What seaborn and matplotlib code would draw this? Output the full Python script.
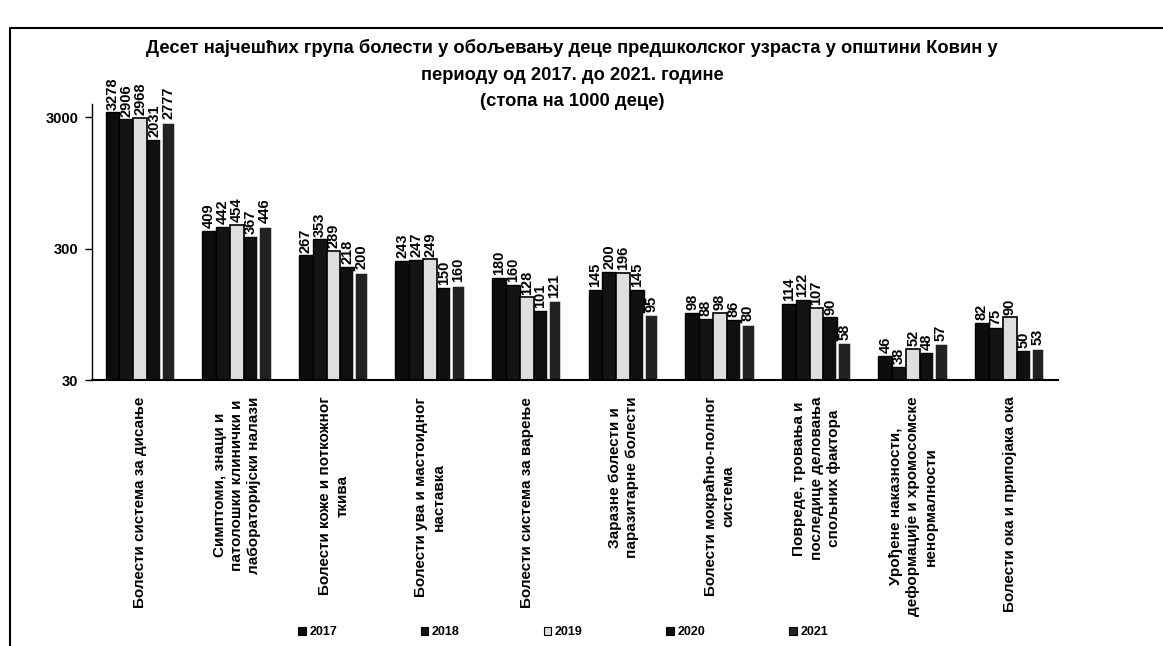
import matplotlib
matplotlib.use("Agg")
import matplotlib.pyplot as plt
import seaborn as sns
import pandas as pd
import numpy as np
from matplotlib.lines import Line2D
from matplotlib.patches import Patch

categories = [
    "Болести система за дисање",
    "Симптоми, знаци и\nпатолошки клинички и\nлабораторијски налази",
    "Болести коже и поткожног\nткива",
    "Болести ува и мастоидног\nнаставка",
    "Болести система за варење",
    "Заразне болести и\nпаразитарне болести",
    "Болести мокраћно-полног\nсистема",
    "Повреде, тровања и\nпоследице деловања\nспољних фактора",
    "Урођене наказности,\nдеформације и хромосомске\nненормалности",
    "Болести ока и припојака ока",
]
years = ["2017", "2018", "2019", "2020", "2021"]
v2017 = [3278, 409, 267, 243, 180, 145, 98, 114, 46, 82]
v2018 = [2906, 442, 353, 247, 160, 200, 88, 122, 38, 75]
v2019 = [2968, 454, 289, 249, 128, 196, 98, 107, 52, 90]
v2020 = [2031, 367, 218, 150, 101, 145, 86, 90, 48, 50]
v2021 = [2777, 446, 200, 160, 121, 95, 80, 58, 57, 53]
yticks = [30, 300, 3000]
series = [v2017, v2018, v2019, v2020, v2021]

sns.set_theme(style="white")
plt.rcParams['font.family'] = ['Liberation Sans', 'DejaVu Sans']
for k in ["text.color", "axes.labelcolor", "xtick.color", "ytick.color"]:
    plt.rcParams[k] = "black"

rows = []
for y, vals in zip(years, series):
    for c, v in zip(categories, vals):
        rows.append({"cat": c, "year": y, "val": v})
df = pd.DataFrame(rows)

palette = {"2017": "#0d0d0d", "2018": "#141414", "2019": "#dedede",
           "2020": "#101010", "2021": "#222222"}

fig = plt.figure(figsize=(11.63, 6.46), dpi=100)
ax = fig.add_axes([92/1163, 1-380/646, (1058-92)/1163, (380-104)/646])
ax.set_yscale('log')
sns.barplot(data=df, x="cat", y="val", hue="year", palette=palette,
            order=categories, hue_order=years, width=0.72,
            edgecolor="black", linewidth=1.0, ax=ax, legend=False)

for i, cont in enumerate(ax.containers):
    if years[i] == "2021":
        for p in cont:
            p.set_edgecolor("white")
            p.set_linewidth(1.8)
    if years[i] == "2019":
        for p in cont:
            p.set_edgecolor("black")
            p.set_linewidth(1.2)
    ax.bar_label(cont, labels=[str(v) for v in series[i]], rotation=90, padding=2,
                 fontsize=10.5, fontweight="bold", color="black")

ax.set_ylim(30, 3800)
ax.set_yticks(yticks)
ax.set_yticklabels([str(t) for t in yticks], fontsize=10.5, fontweight="bold")
ax.yaxis.set_minor_locator(matplotlib.ticker.NullLocator())
ax.tick_params(axis='y', which='major', length=5, width=1, color='black', left=True, pad=5)
ax.tick_params(axis='x', length=0, pad=12)
ax.set_xticks(range(len(categories)))
ax.set_xticklabels(categories, rotation=90, fontsize=11, fontweight="bold",
                   va="top", ha="center", multialignment="center", linespacing=1.3)
ax.set_xlabel("")
ax.set_ylabel("")
for s in ["top", "right"]:
    ax.spines[s].set_visible(False)
ax.spines["left"].set_color("black")
ax.spines["bottom"].set_color("black")
ax.spines["left"].set_linewidth(1)
ax.spines["bottom"].set_linewidth(1.5)
ax.set_xlim(-0.5, len(categories) - 0.5)

# Title
tx = 572/1163
fig.text(tx, 1-48/646, "Десет најчешћих група болести у обољевању деце предшколског узраста у општини Ковин у",
         ha="center", va="center", fontsize=13.2, fontweight="bold")
fig.text(tx, 1-75/646, "периоду од 2017. до 2021. године", ha="center", va="center",
         fontsize=13.2, fontweight="bold")
fig.text(tx, 1-101/646, "(стопа на 1000 деце)", ha="center", va="center",
         fontsize=13.2, fontweight="bold")

# Legend
handles = [Patch(facecolor=palette[y], edgecolor="black", linewidth=0.8) for y in years]
fig.legend(handles, years, loc="center", bbox_to_anchor=(563/1163, 1-632/646), ncol=5,
           frameon=False, handlelength=0.6, handleheight=0.6, handletextpad=0.3,
           columnspacing=6.7, prop={"size": 9, "weight": "bold"})

# Outer frame lines
fig.add_artist(Line2D([10/1163, 1], [1-28/646, 1-28/646], transform=fig.transFigure,
                      color="black", linewidth=1.5))
fig.add_artist(Line2D([10/1163, 10/1163], [0, 1-28/646], transform=fig.transFigure,
                      color="black", linewidth=1.5))

fig.savefig("out.png", dpi=100, facecolor="white")
